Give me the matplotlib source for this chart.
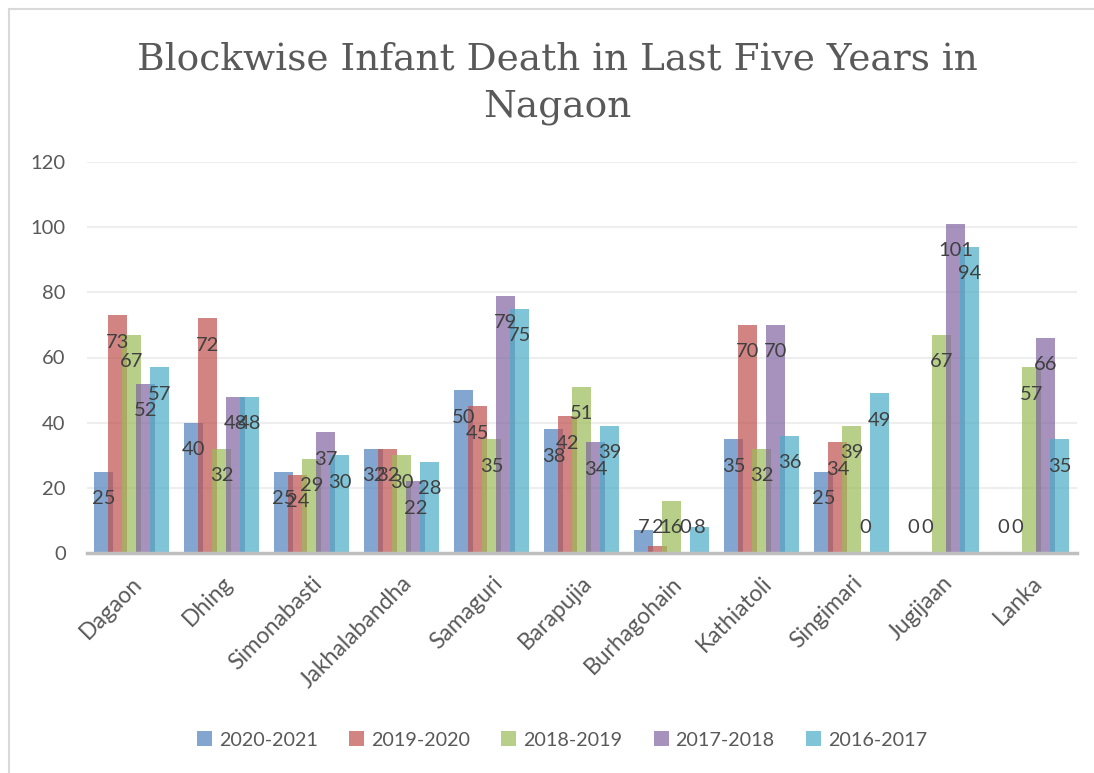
import numpy as np
import matplotlib
matplotlib.use('Agg')
import matplotlib.pyplot as plt
from matplotlib.patches import Patch
from matplotlib.lines import Line2D

# data
blocks = ['Dagaon', 'Dhing', 'Simonabasti', 'Jakhalabandha', 'Samaguri', 'Barapujia',
          'Burhagohain', 'Kathiatoli', 'Singimari', 'Jugijaan', 'Lanka']
years = ['2020-2021', '2019-2020', '2018-2019', '2017-2018', '2016-2017']
y2020_21 = [25, 40, 25, 32, 50, 38, 7, 35, 25, 0, 0]
y2019_20 = [73, 72, 24, 32, 45, 42, 2, 70, 34, 0, 0]
y2018_19 = [67, 32, 29, 30, 35, 51, 16, 32, 39, 67, 57]
y2017_18 = [52, 48, 37, 22, 79, 34, 0, 70, 0, 101, 66]
y2016_17 = [57, 48, 30, 28, 75, 39, 8, 36, 49, 94, 35]
series = [y2020_21, y2019_20, y2018_19, y2017_18, y2016_17]
colors = ['#4F81BD', '#C0504D', '#9BBB59', '#8064A2', '#4BACC6']

plt.rcParams['font.family'] = ['Lato', 'DejaVu Sans']
txt = '#595959'

W, H = 1094, 773
fig = plt.figure(figsize=(W / 100, H / 100), dpi=100)
ax = fig.add_axes([86.5 / W, 1 - 553 / H, 990 / W, 391 / H])

x = np.arange(len(blocks))
width = 0.211
step = 0.156
for i, (vals, c) in enumerate(zip(series, colors)):
    pos = x + (i - 2) * step
    ax.bar(pos, vals, width, color=c, alpha=0.7, label=years[i], zorder=2)

# data labels near the top inside each bar
for i, vals in enumerate(series):
    pos = x + (i - 2) * step
    for p, v in zip(pos, vals):
        ax.text(p, max(v - 8.3, 7.7), str(v), ha='center', va='center',
                fontsize=14.5, color='#404040', zorder=5)

ax.set_xlim(-0.5, len(blocks) - 0.5)
ax.set_ylim(0, 120)
ax.set_yticks(range(0, 121, 20))
ax.yaxis.grid(True, color='#eeeeee', linewidth=1.5, zorder=0)
ax.set_axisbelow(True)
for s in ['top', 'right', 'left']:
    ax.spines[s].set_visible(False)
ax.spines['bottom'].set_color('#bfbfbf')
ax.spines['bottom'].set_linewidth(2.5)
ax.spines['bottom'].set_zorder(4)
ax.tick_params(axis='y', length=0, pad=15, labelsize=14.5, labelcolor=txt)
ax.tick_params(axis='x', length=0, pad=14, labelcolor=txt)
ax.set_xticks(x)
ax.set_xticklabels(blocks, rotation=45, ha='right', rotation_mode='anchor', fontsize=16.5)

fig.text(557 / W, 1 - 83 / H, 'Blockwise Infant Death in Last Five Years in\nNagaon',
         ha='center', va='center', fontsize=27, color=txt, family='DejaVu Serif',
         linespacing=1.38)

handles = [Patch(facecolor=c, alpha=0.7) for c in colors]
fig.legend(handles, years, loc='center', bbox_to_anchor=(562 / W, 1 - 740 / H), ncol=5,
           frameon=False, fontsize=14.2, handlelength=0.75, handleheight=0.75,
           handletextpad=0.35, columnspacing=1.6, labelcolor=txt)

# chart area border (left and top edges visible)
fig.add_artist(Line2D([8.5 / W, 8.5 / W], [0, 1 - 9 / H], transform=fig.transFigure,
                      color='#d9d9d9', linewidth=1.5))
fig.add_artist(Line2D([8.5 / W, 1], [1 - 9 / H, 1 - 9 / H], transform=fig.transFigure,
                      color='#d9d9d9', linewidth=1.5))

fig.savefig('out.png', dpi=100)
